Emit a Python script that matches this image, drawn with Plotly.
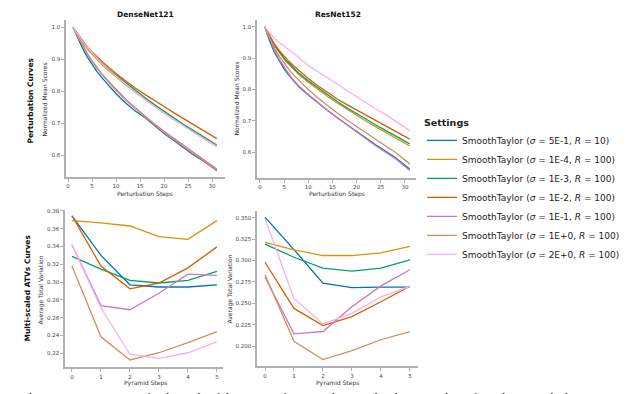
import plotly.graph_objects as go

# ---------------- data ----------------
settings = [
    "SmoothTaylor (<i>σ</i> = 5E-1, <i>R</i> = 10)",
    "SmoothTaylor (<i>σ</i> = 1E-4, <i>R</i> = 100)",
    "SmoothTaylor (<i>σ</i> = 1E-3, <i>R</i> = 100)",
    "SmoothTaylor (<i>σ</i> = 1E-2, <i>R</i> = 100)",
    "SmoothTaylor (<i>σ</i> = 1E-1, <i>R</i> = 100)",
    "SmoothTaylor (<i>σ</i> = 1E+0, <i>R</i> = 100)",
    "SmoothTaylor (<i>σ</i> = 2E+0, <i>R</i> = 100)",
]
colors = ["#0173b2", "#de8f05", "#029e73", "#d55e00", "#cc78bc", "#ca9161", "#fbafe4"]

perturbation_steps = [1, 2, 3, 4, 5, 6, 7, 8, 10, 12, 14, 16, 18, 20, 22, 24, 26, 28, 31]

densenet_perturbation = [
    [1.0, 0.965, 0.935, 0.907, 0.883, 0.862, 0.843, 0.826, 0.792, 0.763, 0.738, 0.718, 0.693, 0.668, 0.647, 0.624, 0.603, 0.584, 0.553],
    [1.0, 0.975, 0.953, 0.932, 0.915, 0.899, 0.884, 0.869, 0.843, 0.820, 0.797, 0.775, 0.753, 0.732, 0.712, 0.693, 0.674, 0.656, 0.627],
    [1.0, 0.976, 0.955, 0.935, 0.918, 0.903, 0.888, 0.874, 0.850, 0.826, 0.803, 0.780, 0.758, 0.737, 0.717, 0.697, 0.679, 0.660, 0.632],
    [1.0, 0.978, 0.958, 0.938, 0.922, 0.907, 0.893, 0.880, 0.855, 0.832, 0.810, 0.790, 0.770, 0.752, 0.733, 0.715, 0.698, 0.680, 0.652],
    [1.0, 0.972, 0.945, 0.918, 0.895, 0.874, 0.855, 0.838, 0.805, 0.775, 0.748, 0.722, 0.698, 0.675, 0.654, 0.632, 0.611, 0.590, 0.557],
    [1.0, 0.970, 0.943, 0.916, 0.893, 0.872, 0.853, 0.835, 0.802, 0.772, 0.745, 0.720, 0.695, 0.671, 0.650, 0.627, 0.606, 0.586, 0.551],
    [1.0, 0.977, 0.956, 0.936, 0.919, 0.903, 0.887, 0.872, 0.846, 0.821, 0.797, 0.775, 0.753, 0.732, 0.712, 0.692, 0.673, 0.655, 0.627],
]

resnet_perturbation = [
    [1.0, 0.955, 0.918, 0.890, 0.866, 0.845, 0.826, 0.810, 0.783, 0.757, 0.733, 0.710, 0.688, 0.665, 0.645, 0.623, 0.603, 0.583, 0.547],
    [1.0, 0.967, 0.940, 0.917, 0.897, 0.880, 0.864, 0.849, 0.823, 0.800, 0.778, 0.757, 0.737, 0.717, 0.699, 0.681, 0.664, 0.645, 0.620],
    [1.0, 0.968, 0.942, 0.920, 0.900, 0.884, 0.868, 0.853, 0.828, 0.805, 0.783, 0.762, 0.742, 0.723, 0.705, 0.687, 0.670, 0.652, 0.627],
    [1.0, 0.970, 0.945, 0.924, 0.906, 0.890, 0.875, 0.861, 0.835, 0.812, 0.790, 0.770, 0.752, 0.735, 0.717, 0.700, 0.683, 0.666, 0.642],
    [1.0, 0.960, 0.925, 0.896, 0.871, 0.849, 0.829, 0.812, 0.784, 0.757, 0.733, 0.710, 0.687, 0.664, 0.642, 0.620, 0.600, 0.580, 0.542],
    [1.0, 0.963, 0.932, 0.906, 0.884, 0.864, 0.846, 0.830, 0.800, 0.773, 0.748, 0.725, 0.703, 0.682, 0.660, 0.640, 0.620, 0.600, 0.563],
    [1.0, 0.980, 0.962, 0.950, 0.939, 0.928, 0.915, 0.902, 0.877, 0.857, 0.838, 0.818, 0.797, 0.777, 0.758, 0.738, 0.720, 0.700, 0.669],
]

pyramid_steps = [0, 1, 2, 3, 4, 5]

densenet_atv = [
    [0.3745, 0.330, 0.297, 0.2945, 0.2945, 0.297],
    [0.369, 0.3665, 0.363, 0.351, 0.348, 0.369],
    [0.329, 0.3146, 0.302, 0.299, 0.302, 0.312],
    [0.3745, 0.318, 0.2925, 0.299, 0.316, 0.3396],
    [0.342, 0.2737, 0.269, 0.2875, 0.309, 0.3075],
    [0.318, 0.2386, 0.2126, 0.2207, 0.232, 0.2443],
    [0.342, 0.2712, 0.219, 0.2145, 0.2207, 0.233],
]

resnet_atv = [
    [0.3505, 0.3127, 0.2735, 0.2685, 0.269, 0.269],
    [0.321, 0.3123, 0.3058, 0.3058, 0.309, 0.3165],
    [0.319, 0.3038, 0.2912, 0.2877, 0.2912, 0.3008],
    [0.298, 0.2442, 0.2242, 0.2346, 0.252, 0.270],
    [0.2808, 0.2146, 0.2173, 0.2462, 0.2704, 0.2892],
    [0.2835, 0.2058, 0.1846, 0.195, 0.2077, 0.2173],
    [0.3488, 0.2558, 0.2262, 0.2385, 0.2577, 0.270],
]

perturb_xticks = [0, 5, 10, 15, 20, 25, 30]
perturb_yticks = [0.6, 0.7, 0.8, 0.9, 1.0]
densenet_atv_yticks = [0.22, 0.24, 0.26, 0.28, 0.30, 0.32, 0.34, 0.36, 0.38]
resnet_atv_yticks = [0.200, 0.225, 0.250, 0.275, 0.300, 0.325, 0.350]

# ---------------- figure ----------------
W, H = 640, 394
FONT = "DejaVu Sans"

def px_x(p):
    return p / W

def px_y(p):
    return 1 - p / H

fig = go.Figure()

panels = [
    (perturbation_steps, densenet_perturbation, "x", "y"),
    (perturbation_steps, resnet_perturbation, "x2", "y2"),
    (pyramid_steps, densenet_atv, "x3", "y3"),
    (pyramid_steps, resnet_atv, "x4", "y4"),
]
for pi, (xs, series, xa, ya) in enumerate(panels):
    for si, vals in enumerate(series):
        fig.add_trace(go.Scatter(
            x=xs, y=vals, mode="lines", xaxis=xa, yaxis=ya,
            line=dict(color=colors[si], width=1.3),
            name=settings[si],
            showlegend=(pi == 0),
        ))

axis_common = dict(
    showgrid=False, zeroline=False, showline=True, linecolor="#b0b0b0", linewidth=1.5,
    ticks="outside", ticklen=3, tickwidth=1, tickcolor="#b0b0b0",
    tickfont=dict(family=FONT, size=5.5, color="#444"), mirror=False,
)

def xaxis(dom, rng, ticks, anchor):
    d = dict(axis_common)
    d.update(domain=[px_x(dom[0]), px_x(dom[1])], range=rng, tickvals=ticks, anchor=anchor)
    return d

def yaxis(dom, rng, ticks, fmt, anchor):
    d = dict(axis_common)
    d.update(domain=[px_y(dom[1]), px_y(dom[0])], range=rng, tickvals=ticks,
             tickformat=fmt, anchor=anchor)
    return d

fig.update_layout(
    width=W, height=H, margin=dict(l=0, r=0, t=0, b=0),
    paper_bgcolor="white", plot_bgcolor="white",
    font=dict(family=FONT, color="#222"),
    xaxis=xaxis((58, 217), [-0.42, 32.7], perturb_xticks, "y"),
    yaxis=yaxis((10, 168), [0.532, 1.022], perturb_yticks, ".1f", "x"),
    xaxis2=xaxis((249, 408), [-0.62, 32.3], perturb_xticks, "y2"),
    yaxis2=yaxis((10, 169), [0.5175, 1.022], perturb_yticks, ".1f", "x2"),
    xaxis3=xaxis((57, 215), [-0.24, 5.21], pyramid_steps, "y3"),
    yaxis3=yaxis((201, 359), [0.2045, 0.381], densenet_atv_yticks, ".2f", "x3"),
    xaxis4=xaxis((249, 410), [-0.276, 5.28], pyramid_steps, "y4"),
    yaxis4=yaxis((202, 358), [0.1769, 0.3577], resnet_atv_yticks, ".3f", "x4"),
    legend=dict(
        x=px_x(414), y=px_y(104), xanchor="left", yanchor="top",
        title=dict(text="<b>Settings</b>", font=dict(family=FONT, size=9.5, color="#222")),
        font=dict(family=FONT, size=9, color="#222"),
        bgcolor="rgba(0,0,0,0)", borderwidth=0, tracegroupgap=0,
    ),
)

def ann(text, x, y, size, bold=False, angle=0, color="#333"):
    fig.add_annotation(
        text=("<b>%s</b>" % text) if bold else text,
        x=px_x(x), y=px_y(y), xref="paper", yref="paper",
        xanchor="center", yanchor="middle", showarrow=False, textangle=angle,
        font=dict(family=FONT, size=size, color=color),
    )

ann("DenseNet121", 137, 5, 7.5, bold=True, color="#111")
ann("ResNet152", 330, 5, 7.5, bold=True, color="#111")
ann("Perturbation Curves", 23, 91, 7.5, bold=True, angle=-90, color="#111")
ann("Multi-scaled ATVs Curves", 20, 280, 7.5, bold=True, angle=-90, color="#111")
ann("Normalized Mean Scores", 37, 90, 6, angle=-90)
ann("Normalized Mean Scores", 229, 89, 6, angle=-90)
ann("Average Total Variation", 33, 282, 6, angle=-90)
ann("Average Total Variation", 222, 281, 6, angle=-90)
ann("Perturbation Steps", 137, 185, 6)
ann("Perturbation Steps", 329, 185, 6)
ann("Pyramid Steps", 137, 375, 6)
ann("Pyramid Steps", 329, 375, 6)

fig.add_annotation(
    text="Evaluation metrics in usage for the study of the impact of varying the noise level on smoothing, from the top to the bottom. Top row: D",
    x=0, y=px_y(381), xref="paper", yref="paper", xanchor="left", yanchor="top",
    showarrow=False, font=dict(family="Liberation Serif", size=12, color="#000"),
)

fig.write_html("out.html")
